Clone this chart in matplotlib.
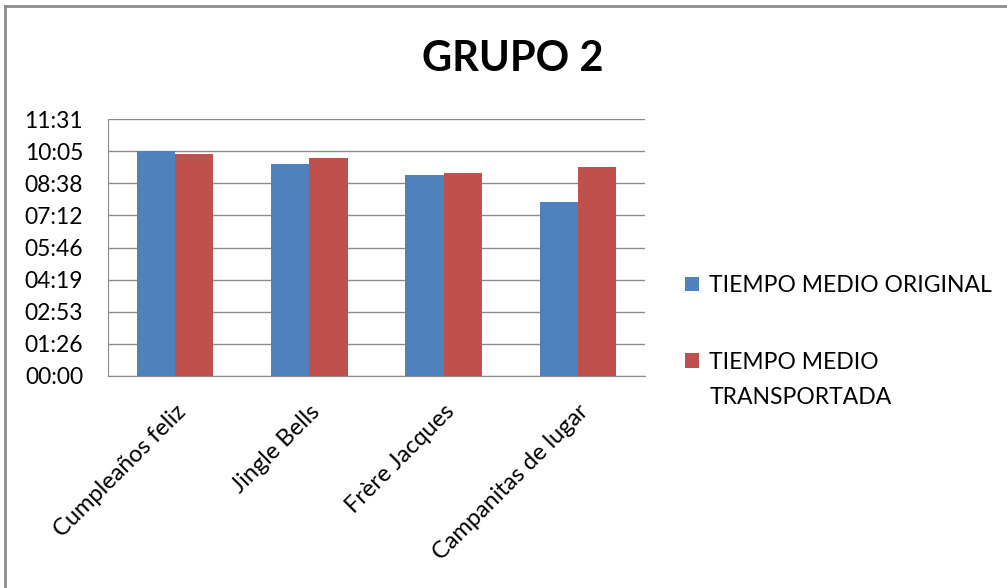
import numpy as np
import matplotlib
matplotlib.use('Agg')
from matplotlib import pyplot as plt
from matplotlib.ticker import FixedLocator, FuncFormatter
from matplotlib.lines import Line2D

plt.rcParams['font.family'] = ['Lato', 'DejaVu Sans']

canciones = ['Cumpleaños feliz', 'Jingle Bells', 'Frère Jacques', 'Campanitas de lugar']
# tiempos en segundos
original = [605, 569, 541, 469]
transportada = [597, 586, 545, 562]
series_labels = ['TIEMPO MEDIO ORIGINAL', 'TIEMPO MEDIO', 'TRANSPORTADA']

blue = '#4f81bd'
red = '#c0504d'
grey = '#8c8c8c'

fig = plt.figure(figsize=(10.07, 5.88), dpi=100)
ax = fig.add_axes([108 / 1007, 1 - 376 / 588, (645 - 108) / 1007, (376 - 119) / 588])

x = np.arange(len(canciones))
w = 1 / 3.5
ax.bar(x - w / 2, original, w, color=blue, label=series_labels[0], zorder=3)
ax.bar(x + w / 2, transportada, w, color=red, label=series_labels[1], zorder=3)

step = 86.4
ax.set_ylim(0, 8 * step)
ax.set_xlim(-0.5, len(canciones) - 0.5)
ax.yaxis.set_major_locator(FixedLocator([i * step for i in range(9)]))


def fmt(v, pos):
    s = int(round(v))
    return '%02d:%02d' % (s // 60, s % 60)


ax.yaxis.set_major_formatter(FuncFormatter(fmt))
ax.grid(axis='y', color=grey, linewidth=1, zorder=0)
ax.set_xticks(x)
ax.set_xticklabels(canciones, rotation=45, ha='right', rotation_mode='anchor', fontsize=17)
ax.tick_params(axis='x', length=0, pad=18)
ax.tick_params(axis='y', length=0, labelsize=16.5, pad=18)
for side in ['top', 'right']:
    ax.spines[side].set_visible(False)
for side in ['left', 'bottom']:
    ax.spines[side].set_color(grey)

fig.text(513 / 1007, 1 - 59 / 588, 'GRUPO 2', ha='center', va='center', fontsize=30, fontweight='bold')

leg = fig.legend(loc='upper left', bbox_to_anchor=(676 / 1007, 1 - 266 / 588), frameon=False,
                 fontsize=16.5, handlelength=0.6, handleheight=0.6, handletextpad=0.45,
                 labelspacing=2.43, borderaxespad=0)

fig.canvas.draw()
t2 = leg.get_texts()[1]
bb = t2.get_window_extent().transformed(fig.transFigure.inverted())
fig.text(bb.x0, bb.y0 - 35 / 588, series_labels[2], ha='left', va='bottom', fontsize=16.5)

# marco gris
fig.add_artist(Line2D([5 / 1007, 5 / 1007], [0, 1 - 6 / 588], color=grey, linewidth=2))
fig.add_artist(Line2D([5 / 1007, 1], [1 - 6 / 588, 1 - 6 / 588], color=grey, linewidth=2))

fig.savefig('out.png', dpi=100)
